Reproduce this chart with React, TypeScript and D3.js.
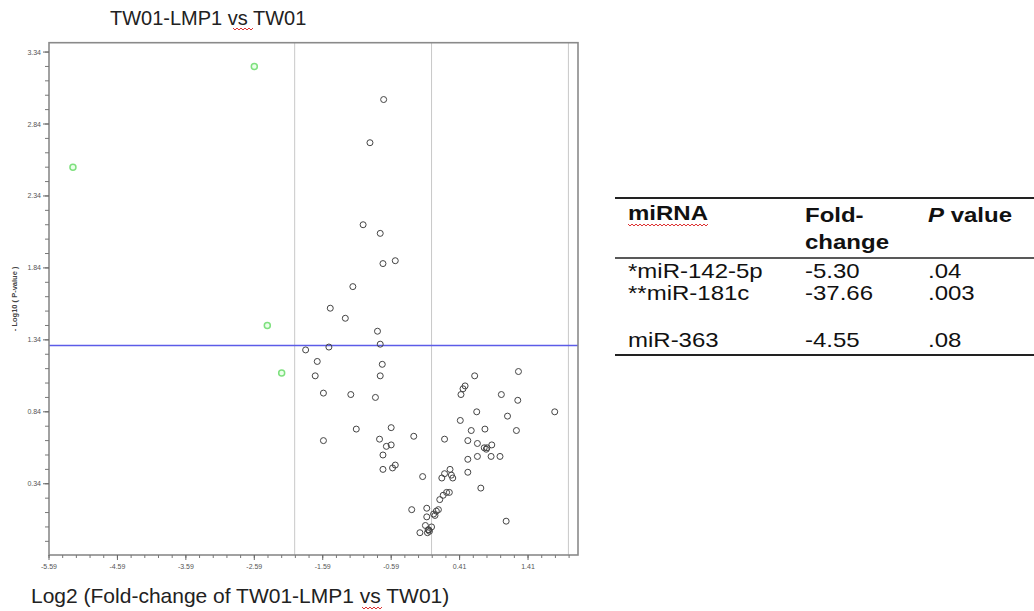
import React from 'react';
import * as d3 from 'd3';

// gray (non-significant) miRNAs: log2 fold-change and -log10 p
const grayLogFC = [
  -0.70, -0.90, -1.00, -0.75, -0.71, -0.53, -1.15, -1.48, -1.26, -0.79,
  -0.75, -1.50, -1.84, -1.67, -0.72, -1.70, -0.75, -1.58, -1.18, -0.82,
  -1.10, -0.59, -1.58, -0.76, -0.66, -0.59, -0.71, -0.71, -0.57, -0.53,
  -0.26, -0.13, -0.29, -0.07, -0.17, -0.07, -0.09, -0.05, -0.03, -0.06,
  0.00, 0.03, 0.07, 0.10, 0.12, 0.17, 0.22, 0.26, 0.15, 0.19,
  0.27, 0.29, 0.31, 0.19, 0.43, 0.46, 0.49, 0.63, 0.42, 0.58,
  0.66, 0.53, 0.67, 0.78, 0.77, 0.80, 0.88, 0.87, 0.67, 0.53,
  0.53, 0.72, 1.00, 1.02, 1.11, 1.24, 1.26, 1.27, 1.80, 1.09,
  -0.04, 0.05, 0.81,
];
const grayNegLogP = [
  3.01, 2.71, 2.14, 2.08, 1.87, 1.89, 1.71, 1.56, 1.49, 1.40,
  1.31, 1.29, 1.27, 1.19, 1.17, 1.09, 1.09, 0.97, 0.96, 0.94,
  0.72, 0.73, 0.64, 0.65, 0.60, 0.61, 0.54, 0.44, 0.45, 0.47,
  0.67, 0.39, 0.16, 0.17, 0.00, 0.11, 0.05, 0.02, 0.01, 0.00,
  0.04, 0.13, 0.15, 0.16, 0.23, 0.26, 0.28, 0.28, 0.38, 0.41,
  0.44, 0.40, 0.38, 0.65, 0.96, 1.00, 1.02, 1.09, 0.78, 0.71,
  0.84, 0.64, 0.62, 0.72, 0.59, 0.58, 0.61, 0.53, 0.53, 0.51,
  0.42, 0.31, 0.53, 0.96, 0.81, 0.71, 0.92, 1.12, 0.84, 0.08,
  0.02, 0.12, 0.59,
];

// green (highlighted) miRNAs
const greenLogFC = [-5.24, -2.59, -2.40, -2.19];
const greenNegLogP = [2.54, 3.24, 1.44, 1.11];

const xTicks = [-5.59, -4.59, -3.59, -2.59, -1.59, -0.59, 0.41, 1.41];
const yTicks = [0.34, 0.84, 1.34, 1.84, 2.34, 2.84, 3.34];
const vLines = [-2, 0, 2];
const pCutoff = 1.301;

const miRNAs = ['*miR-142-5p', '**miR-181c', 'miR-363'];
const foldChanges = ['-5.30', '-37.66', '-4.55'];
const pValues = ['.04', '.003', '.08'];

const W = 1034;
const H = 611;

const wavy = (x0: number, x1: number, y: number) => {
  let d = `M${x0},${y}`;
  for (let x = x0; x < x1; x += 4) d += ` l2,2 l2,-2`;
  return d;
};

// table text is a bit wider than the plain font
const Cell = ({x, y, bold, children}: any) => (
  <text transform={`translate(${x},${y}) scale(1.2,1)`} fontWeight={bold ? 'bold' : 'normal'}>{children}</text>
);

const App = () => {
  const x = d3.scaleLinear().domain([-5.59, 2.14]).range([49, 578]);
  const y = d3.scaleLinear().domain([-0.155, 3.405]).range([555, 42.7]);

  const xMinor = d3.range(-5.59, 2.14, 0.2);
  const yMinor = d3.range(-0.06, 3.40, 0.1);

  const rowY = [278, 300, 347];
  const col = [628, 805, 928];

  return (
    <svg width={W} height={H} style={{position: 'absolute', left: 0, top: 0, background: '#fff'}}
         fontFamily="Liberation Sans, Arial, sans-serif">
      <rect width={W} height={H} fill="#fff"/>

      {/* title */}
      <text x={110} y={25} fontSize={20} fill="#222">TW01-LMP1 vs TW01</text>
      <path d={wavy(233, 251, 28)} stroke="#d33" fill="none" strokeWidth={1}/>

      {/* reference lines */}
      {vLines.map(v => (
        <line key={v} x1={x(v)} x2={x(v)} y1={y(3.405)} y2={y(-0.155)} stroke="#c8c8c8" strokeWidth={1}/>
      ))}
      <line x1={x(-5.59)} x2={x(2.14)} y1={y(pCutoff)} y2={y(pCutoff)} stroke="#5c5ce8" strokeWidth={1.5}/>

      {/* frame */}
      <rect x={x(-5.59)} y={y(3.405)} width={x(2.14) - x(-5.59)} height={y(-0.155) - y(3.405)}
            fill="none" stroke="#8a8a8a" strokeWidth={1.6}/>

      {/* y ticks */}
      {yMinor.map((t, i) => (
        <line key={'ym' + i} x1={45} x2={49} y1={y(t)} y2={y(t)} stroke="#777" strokeWidth={1}/>
      ))}
      {yTicks.map(t => (
        <g key={'y' + t}>
          <line x1={43} x2={49} y1={y(t)} y2={y(t)} stroke="#666" strokeWidth={1}/>
          <text x={41} y={y(t) + 2.5} fontSize={7} textAnchor="end" fill="#555">{t.toFixed(2)}</text>
        </g>
      ))}
      <text transform={`translate(17,${(y(3.405) + y(-0.155)) / 2}) rotate(-90)`} fontSize={7.5}
            fontWeight="bold" textAnchor="middle" fill="#444">- Log10 ( P-value )</text>

      {/* x ticks */}
      {xMinor.map((t, i) => (
        <line key={'xm' + i} x1={x(t)} x2={x(t)} y1={555} y2={558} stroke="#777" strokeWidth={1}/>
      ))}
      {xTicks.map(t => (
        <g key={'x' + t}>
          <line x1={x(t)} x2={x(t)} y1={555} y2={560} stroke="#666" strokeWidth={1}/>
          <text x={x(t)} y={569} fontSize={7} textAnchor="middle" fill="#555">{t.toFixed(2)}</text>
        </g>
      ))}
      <text x={31} y={603} fontSize={21} fill="#222">Log2 (Fold-change of TW01-LMP1 vs TW01)</text>
      <path d={wavy(362, 380, 607)} stroke="#d33" fill="none" strokeWidth={1}/>

      {/* points */}
      {grayLogFC.map((v, i) => (
        <circle key={'g' + i} cx={x(v)} cy={y(grayNegLogP[i])} r={3} fill="none" stroke="#444" strokeWidth={1}/>
      ))}
      {greenLogFC.map((v, i) => (
        <circle key={'s' + i} cx={x(v)} cy={y(greenNegLogP[i])} r={3} fill="#eaffea" stroke="#7ee07e" strokeWidth={1.5}/>
      ))}

      {/* table */}
      <g fill="#111" fontSize={20}>
        <line x1={615} x2={W} y1={198} y2={198} stroke="#222" strokeWidth={2}/>
        <Cell x={col[0]} y={220} bold>miRNA</Cell>
        <path d={wavy(628, 706, 224)} stroke="#d33" fill="none" strokeWidth={1}/>
        <Cell x={col[1]} y={222} bold>Fold-</Cell>
        <Cell x={col[1]} y={249} bold>change</Cell>
        <Cell x={col[2]} y={222} bold><tspan fontStyle="italic">P</tspan> value</Cell>
        <line x1={615} x2={W} y1={258} y2={258} stroke="#222" strokeWidth={1.5}/>
        {miRNAs.map((m, i) => (
          <g key={m}>
            <Cell x={col[0]} y={rowY[i]}>{m}</Cell>
            <Cell x={col[1]} y={rowY[i]}>{foldChanges[i]}</Cell>
            <Cell x={col[2]} y={rowY[i]}>{pValues[i]}</Cell>
          </g>
        ))}
        <line x1={615} x2={W} y1={355} y2={355} stroke="#222" strokeWidth={2}/>
      </g>
    </svg>
  );
};

export default App;
